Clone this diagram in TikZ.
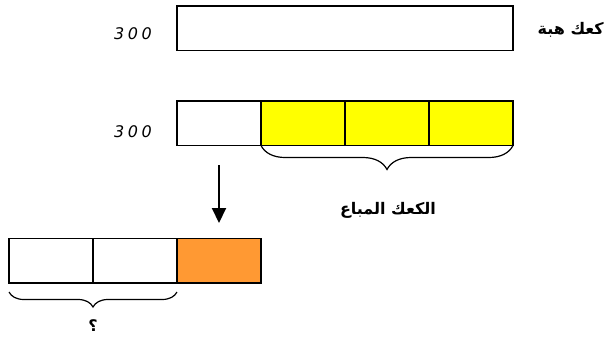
\documentclass[tikz,border=0pt]{standalone}
\usepackage{fontspec}
\usetikzlibrary{decorations.pathreplacing,arrows.meta}
\TeXXeTstate=1
\newfontfamily\arabicfont[Script=Arabic]{DejaVu Sans}
\newfontfamily\numfont{DejaVu Sans}
\definecolor{cakeyellow}{RGB}{255,255,0}
\definecolor{cakeorange}{RGB}{255,153,51}
\begin{document}
\begin{tikzpicture}[x=1pt,y=-1pt,
  cell/.style={draw, line width=1.3pt, minimum width=84pt, minimum height=44.5pt,
    anchor=north west, inner sep=0pt, outer sep=0pt},
  bracepath/.style={decorate, line width=1.2pt},
  numlabel/.style={font=\numfont\itshape\fontsize{16}{16}\selectfont, inner sep=0pt},
  arlabel/.style={font=\arabicfont\bfseries\fontsize{16}{20}\selectfont, inner sep=0pt}]
\useasboundingbox (0,0) rectangle (605,346);
% top bar
\node[cell, minimum width=336pt] (hiba) at (177,6) {};
% second bar
\node[cell] (s1) at (177,101) {};
\node[cell, fill=cakeyellow] (s2) at (261,101) {};
\node[cell, fill=cakeyellow] (s3) at (345,101) {};
\node[cell, fill=cakeyellow] (s4) at (429,101) {};
% bottom bar
\node[cell] (b1) at (9,238.5) {};
\node[cell] (b2) at (93,238.5) {};
\node[cell, fill=cakeorange] (b3) at (177,238.5) {};
% labels
\node[numlabel] (n1) at (133,34) {3\hspace{3.5pt}0\hspace{3.5pt}0};
\node[numlabel] (n2) at (133,132) {3\hspace{3.5pt}0\hspace{3.5pt}0};
\node[arlabel, anchor=east] (hibatext) at (604,30) {\beginR كعك هبة\endR};
\node[arlabel] (sold) at (388,210) {\beginR الكعك المباع\endR};
\node[arlabel] (q) at (93,326) {\beginR ؟\endR};
% braces
\draw[bracepath, decoration={brace, mirror, amplitude=24pt}] (s2.south west) -- (s4.south east);
\coordinate (bl) at ([yshift=-9pt]b1.south west);
\coordinate (br) at ([yshift=-9pt]b2.south east);
\draw[bracepath, decoration={brace, mirror, amplitude=15pt}] (bl) -- (br);
% arrow
\coordinate (atop) at (219,165);
\coordinate (abot) at (219,223);
\draw[line width=2pt, -{Triangle[length=15pt, width=14pt]}] (atop) -- (abot);
\end{tikzpicture}
\end{document}
